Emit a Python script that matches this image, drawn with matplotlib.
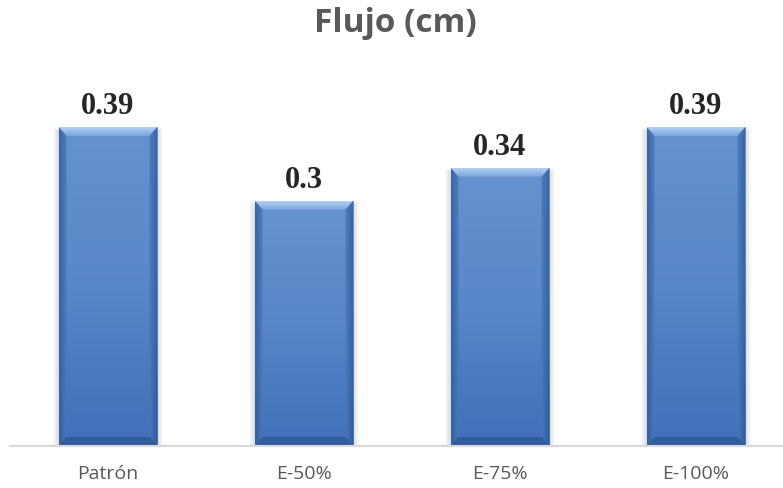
import numpy as np
import matplotlib
matplotlib.use('Agg')
import matplotlib.pyplot as plt
from matplotlib.patches import Polygon, Rectangle
from matplotlib.colors import LinearSegmentedColormap

categories = ['Patrón', 'E-50%', 'E-75%', 'E-100%']
flujo = [0.39, 0.30, 0.34, 0.39]
value_labels = ['0.39', '0.3', '0.34', '0.39']

W, H = 783, 489
fig = plt.figure(figsize=(W / 100, H / 100), dpi=100)

# axes geometry in pixels
left_px, base_px, px_per_unit, cat_px = 10, 447, 818, 196
ymax = 0.5
ax = fig.add_axes([left_px / W, 1 - base_px / H,
                   (W - left_px) / W, ymax * px_per_unit / H])
ax.set_xlim(-0.5, (W - left_px) / cat_px - 0.5)
ax.set_ylim(0, ymax)

bar_w = 0.505
bars = ax.bar(range(len(categories)), flujo, width=bar_w, color='#5B8BCB', zorder=2)

# bevel size in data units
bx = 8 / cat_px
by = 9 / px_per_unit
grad = LinearSegmentedColormap.from_list('body', ['#4070B8', '#5887C8', '#6693D0'])
side = LinearSegmentedColormap.from_list('side', ['#2F5A98', '#4B7BBF'])

for b, v in zip(bars, flujo):
    x0 = b.get_x()
    x1 = x0 + b.get_width()
    # soft shadow around the bar
    for k in range(1, 6):
        off = k * 1.2
        ax.add_patch(Rectangle((x0 - off / cat_px, 0), b.get_width() + 2 * off / cat_px,
                               v - (4 - off * 0.5) / px_per_unit, color='black',
                               alpha=0.025, zorder=1, lw=0))
    # vertical gradient fill clipped to the bar
    img = ax.imshow(np.linspace(0, 1, 100).reshape(-1, 1), cmap=grad, aspect='auto',
                    extent=(x0, x1, 0, v), origin='lower', zorder=3)
    img.set_clip_path(b)
    # bevel facets
    top = Polygon([(x0, v), (x1, v), (x1 - bx, v - by), (x0 + bx, v - by)],
                  closed=True, lw=0, zorder=4)
    ax.add_patch(top)
    ti = ax.imshow(np.linspace(0, 1, 20).reshape(-1, 1),
                   cmap=LinearSegmentedColormap.from_list('t', ['#7AA5DD', '#B3D0F3']),
                   aspect='auto', extent=(x0, x1, v - by, v), origin='lower', zorder=4)
    ti.set_clip_path(top)
    top.set_visible(False)
    lft = Polygon([(x0, v), (x0 + bx, v - by), (x0 + bx, by), (x0, 0)],
                  closed=True, lw=0, zorder=4)
    rgt = Polygon([(x1, v), (x1 - bx, v - by), (x1 - bx, by), (x1, 0)],
                  closed=True, lw=0, zorder=4)
    for p, cols in ((lft, side), (rgt, side.reversed())):
        ax.add_patch(p)
        p.set_visible(False)
        xa, xb = (x0, x0 + bx) if p is lft else (x1 - bx, x1)
        si = ax.imshow(np.linspace(0, 1, 20).reshape(1, -1), cmap=cols, aspect='auto',
                       extent=(xa, xb, 0, v), alpha=0.8, zorder=4)
        si.set_clip_path(p)
    bot = Polygon([(x0, 0), (x1, 0), (x1 - bx, by), (x0 + bx, by)],
                  closed=True, color='#335C9C', lw=0, zorder=4)
    ax.add_patch(bot)

for i, (v, t) in enumerate(zip(flujo, value_labels)):
    ax.text(i, v + 14 / px_per_unit, t, ha='center', va='baseline',
            fontsize=22, fontweight='bold', family='Liberation Serif',
            color='#262626', zorder=5)

ax.set_xticks(range(len(categories)))
ax.set_xticklabels(categories, fontsize=14, color='#595959', family='Open Sans')
ax.tick_params(axis='x', length=0, pad=13)
ax.set_yticks([])
for s in ['top', 'right', 'left']:
    ax.spines[s].set_visible(False)
ax.spines['bottom'].set_color('#D9D9D9')
ax.spines['bottom'].set_linewidth(1.5)
ax.spines['bottom'].set_zorder(6)

fig.text(395 / W, 1 - 24 / H, 'Flujo (cm)', ha='center', va='center',
         fontsize=24, fontweight='bold', color='#595959', family='Open Sans')

fig.savefig('out.png', dpi=100)
